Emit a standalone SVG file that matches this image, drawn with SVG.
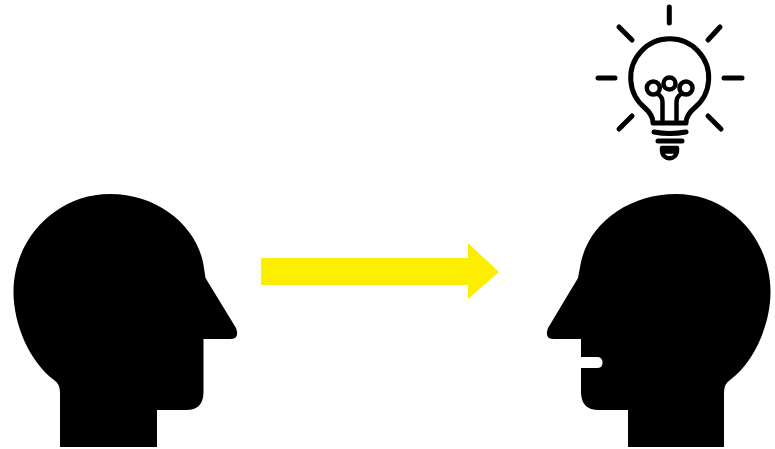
<svg xmlns="http://www.w3.org/2000/svg" width="775" height="449" viewBox="0 0 775 449">
<style>.l{fill:none;stroke:#000;stroke-width:5;stroke-linecap:round;stroke-linejoin:round}.t{stroke-width:4.500}</style>
<rect width="775" height="449" fill="#fff"/>
<g id="head-left"><path d="M60 447V392Q60 384 54 380C30 362 13.500 325 13.500 292C13.500 238 57 194 110 194C158 194 197 226 203.500 265L205.500 278L236 328Q240 339 230 339H203.500V392Q203.500 410 186 410H157V447Z"/></g>
<g id="head-right"><path d="M628 447V410H599Q581 410 581 392V368H597Q602.500 368 602.500 362.500Q602.500 357 597 357H581V339H554Q544 339 548 328L578 278L581 262C590 222 630 194 676 194C729 194 770.500 238 770.500 292C770.500 325 754 362 730 380Q724 384 724 392V447Z"/></g>
<g id="lightbulb">
<g id="rays" class="l"><path d="M669.300 7V23M598 78H615M724 78H742M619 27L632 40M720 27L708 40M619 129L632 116M721 129L708 116"/></g>
<path class="l" d="M653 123Q653 115 645 108A39 39 0 1 1 694.400 108Q686 115 686 123Z"/>
<g class="l t"><circle cx="653.300" cy="88" r="6.500"/><circle cx="669.500" cy="83.500" r="6"/><circle cx="686" cy="88" r="6.500"/>
<path d="M658 94Q662.500 97 662.500 102V122M681 94Q676.500 97 676.500 102V122"/></g>
<path class="l" d="M654 132Q669.500 135 686 132M658 141H682"/>
<path class="l t" d="M662 148V150C662 161 677 161 677 150V148ZM663 151.500H676"/>
</g>
<g id="connectors"><path id="arrow" fill="#fdee00" d="M261 258H468V243L499 272L468 299V285H261Z"/></g>
</svg>
